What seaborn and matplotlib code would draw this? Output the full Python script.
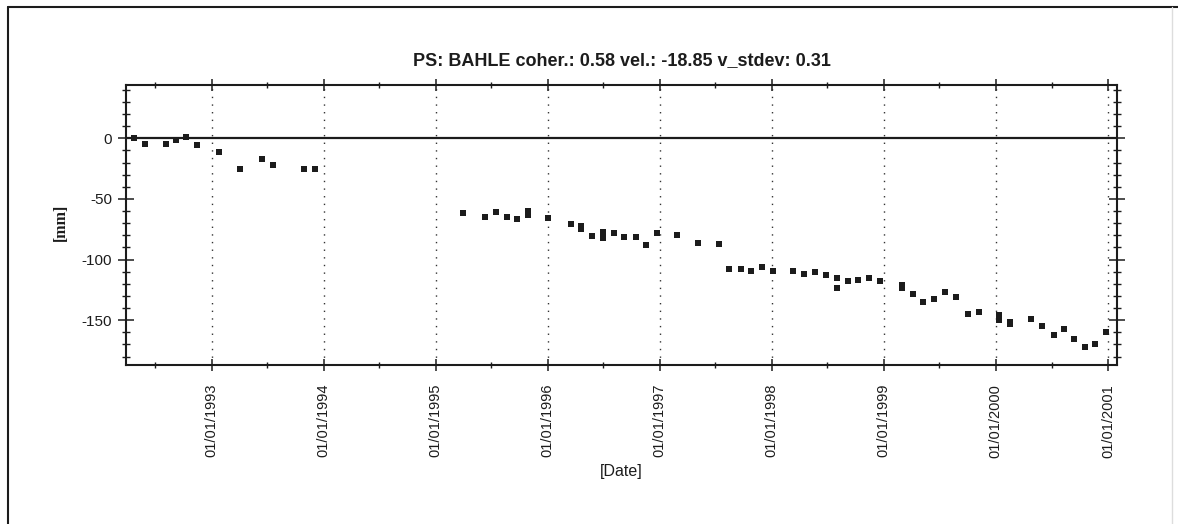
import matplotlib
matplotlib.use("Agg")
import matplotlib.pyplot as plt
import matplotlib.dates as mdates
from matplotlib.ticker import MultipleLocator
from matplotlib.lines import Line2D
import seaborn as sns
import pandas as pd

# ---- data ----
dates = [
    "1992-04-24", "1992-05-29", "1992-08-06", "1992-09-08", "1992-10-11", "1992-11-16",
    "1993-01-26", "1993-04-05", "1993-06-13", "1993-07-20", "1993-10-30", "1993-12-05",
    "1995-04-01", "1995-06-10", "1995-07-16", "1995-08-22", "1995-09-23", "1995-10-30",
    "1995-10-30", "1996-01-04", "1996-03-17", "1996-04-19", "1996-04-19", "1996-05-25",
    "1996-07-01", "1996-07-01", "1996-08-03", "1996-09-05", "1996-10-15", "1996-11-17",
    "1996-12-24", "1997-02-27", "1997-05-05", "1997-07-13", "1997-08-15", "1997-09-21",
    "1997-10-24", "1997-11-29", "1998-01-04", "1998-03-11", "1998-04-17", "1998-05-23",
    "1998-06-25", "1998-07-31", "1998-07-31", "1998-09-05", "1998-10-09", "1998-11-14",
    "1998-12-20", "1999-02-28", "1999-02-28", "1999-04-05", "1999-05-08", "1999-06-13",
    "1999-07-20", "1999-08-25", "1999-10-01", "1999-11-06", "2000-01-11", "2000-01-11",
    "2000-02-16", "2000-02-16", "2000-04-26", "2000-06-01", "2000-07-08", "2000-08-10",
    "2000-09-12", "2000-10-18", "2000-11-20", "2000-12-26",
]
displacement_mm = [
    0.0, -4.4, -4.4, -1.7, 1.1, -5.8,
    -11.6, -25.4, -17.4, -22.1, -25.6, -25.6,
    -62.0, -64.5, -60.9, -64.5, -66.7, -59.8,
    -63.4, -65.6, -70.8, -72.2, -75.2, -80.2,
    -77.4, -82.1, -78.5, -81.0, -81.0, -88.2,
    -77.7, -79.9, -86.0, -87.1, -108.0, -108.0,
    -109.1, -105.8, -109.4, -109.4, -111.6, -110.2,
    -112.7, -115.2, -123.1, -117.7, -116.5, -115.2,
    -117.7, -121.2, -123.1, -128.4, -135.3, -132.8,
    -127.0, -130.6, -144.6, -143.3, -146.0, -150.2,
    -151.5, -153.0, -149.3, -155.1, -162.0, -157.4,
    -165.6, -172.5, -170.0, -159.8,
]
title_text = "PS: BAHLE coher.: 0.58 vel.: -18.85 v_stdev: 0.31"
x_label = "[Date]"
y_label = "[mm]"
y_tick_values = [0, -50, -100, -150]

df = pd.DataFrame({"date": pd.to_datetime(dates), "mm": displacement_mm})

sns.set_style("ticks")
plt.rcParams["font.family"] = ["Liberation Sans", "DejaVu Sans"]
plt.rcParams["axes.unicode_minus"] = False

fig = plt.figure(figsize=(11.78, 5.24), dpi=100, facecolor="white")
ax = fig.add_axes([126 / 1178, 1 - 365 / 524, (1117 - 126) / 1178, (365 - 85) / 524])

ink = "#1c1c1c"

ax.grid(False)
ax.axhline(0, color=ink, lw=1.6, zorder=2)

sns.scatterplot(data=df, x="date", y="mm", ax=ax, marker="s", s=16,
                color=ink, edgecolor=ink, linewidth=0, zorder=3, legend=False)

ax.set_xlim(pd.Timestamp("1992-03-28"), pd.Timestamp("2001-01-30"))
ax.set_ylim(-187, 44)

ax.xaxis.set_major_locator(mdates.YearLocator())
ax.xaxis.set_minor_locator(mdates.MonthLocator(bymonth=7))
ax.xaxis.set_major_formatter(mdates.DateFormatter("%d/%m/%Y"))
ax.set_yticks(y_tick_values)
ax.yaxis.set_minor_locator(MultipleLocator(10))

# vertical dotted year grid
for d in ax.get_xticks():
    ax.axvline(d, color="#333333", lw=1.0, linestyle=(0, (1, 4.5)), zorder=1)

ax.tick_params(axis="x", which="major", direction="inout", length=9, width=1.1,
               top=True, bottom=True, colors=ink, labelsize=10.5, labelrotation=90, pad=9)
ax.tick_params(axis="x", which="minor", direction="inout", length=5, width=1.0,
               top=True, bottom=True, colors=ink)
ax.tick_params(axis="y", which="major", direction="inout", length=12, width=1.1,
               left=True, right=True, colors=ink, labelsize=11, pad=4)
ax.tick_params(axis="y", which="minor", direction="inout", length=6, width=1.0,
               left=True, right=True, colors=ink)

for sp in ax.spines.values():
    sp.set_visible(True)
    sp.set_color(ink)
    sp.set_linewidth(1.5)

ax.set_title(title_text, fontsize=13, fontweight="bold", color=ink, pad=14)
ax.set_xlabel(x_label, fontsize=11.5, color=ink)
ax.set_ylabel(y_label, fontsize=11.5, color=ink, fontweight="bold",
              family=["Liberation Serif", "DejaVu Serif"])
ax.xaxis.set_label_coords(0.5, -0.355)
ax.yaxis.set_label_coords(-0.058, 0.51)

# outer frame of the panel
fig.add_artist(Line2D([8 / 1178, 8 / 1178], [0, 1 - 7 / 524], transform=fig.transFigure,
                      color=ink, lw=1.5))
fig.add_artist(Line2D([8 / 1178, 1], [1 - 7 / 524, 1 - 7 / 524], transform=fig.transFigure,
                      color=ink, lw=1.5))
fig.add_artist(Line2D([1172 / 1178, 1172 / 1178], [0, 1 - 7 / 524], transform=fig.transFigure,
                      color="#dddddd", lw=1.0))

fig.savefig("out.png", dpi=100, facecolor="white")
